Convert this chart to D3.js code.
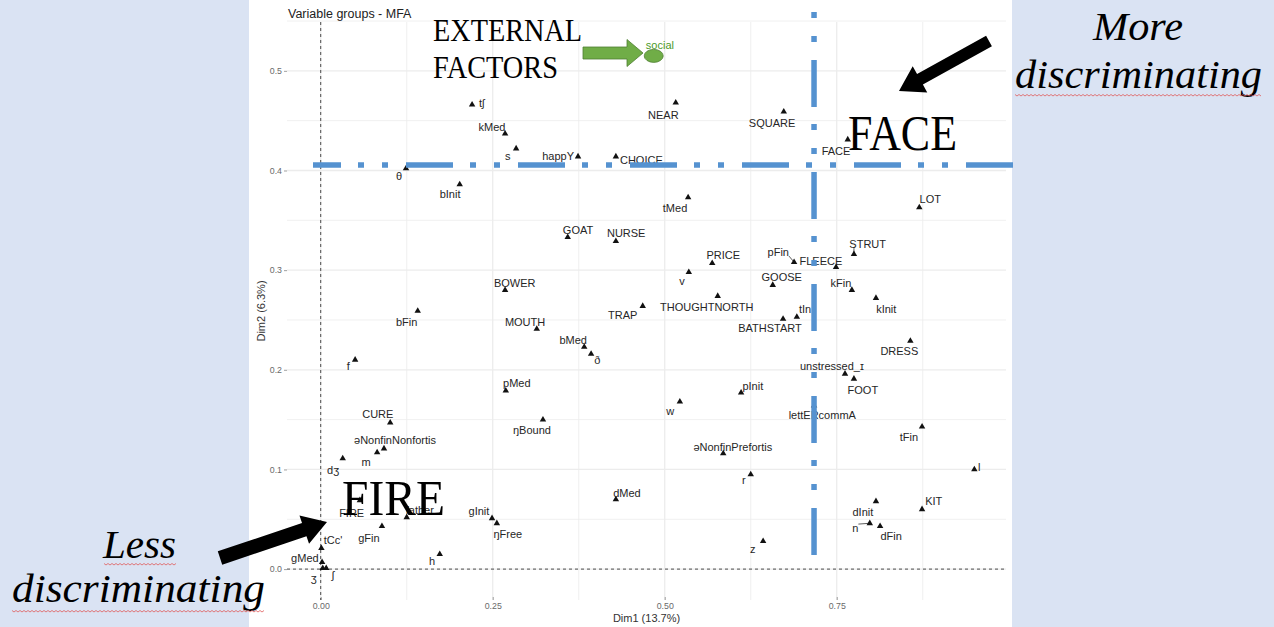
<!DOCTYPE html>
<html><head><meta charset="utf-8">
<script src="https://cdn.jsdelivr.net/npm/d3@7"></script>
<style>
html,body{margin:0;padding:0;background:#fff;}
svg{display:block;}
</style></head>
<body>
<svg id="chart" width="1274" height="627"></svg>
<script>
// ---------- DATA ----------
const names = ["tʃ","kMed","s","happY","CHOICE","θ","bInit","NEAR","SQUARE","FACE","LOT","tMed","GOAT","NURSE","BOWER","bFin","MOUTH","bMed","ð","f","pMed","PRICE","v","pFin","FLEECE","STRUT","GOOSE","kFin","kInit","TRAP","THOUGHTNORTH","tIn","BATHSTART","DRESS","unstressed_ɪ","FOOT","pInit","w","lettERcommA","tFin","əNonfinPrefortis","r","l","dInit","KIT","n","dFin","z","dMed","CURE","ŋBound","əNonfinNonfortis","m","dʒ","FIRE","father","gInit","ŋFree","gFin","tCc'","gMed","ʒ","ʃ","h"];
const dim1 = [0.220,0.268,0.284,0.374,0.429,0.124,0.202,0.516,0.673,0.766,0.870,0.534,0.359,0.429,0.268,0.141,0.314,0.383,0.393,0.050,0.269,0.569,0.535,0.688,0.749,0.775,0.657,0.772,0.807,0.468,0.577,0.692,0.672,0.857,0.762,0.775,0.611,0.522,0.717,0.874,0.585,0.625,0.950,0.807,0.874,0.798,0.813,0.643,0.429,0.101,0.323,0.092,0.082,0.032,0.057,0.125,0.249,0.256,0.089,0.001,0.002,0.003,0.008,0.173];
const dim2 = [0.466,0.437,0.422,0.414,0.414,0.402,0.386,0.468,0.459,0.431,0.363,0.373,0.333,0.329,0.280,0.259,0.241,0.223,0.216,0.210,0.179,0.307,0.298,0.308,0.303,0.316,0.285,0.280,0.272,0.264,0.274,0.253,0.251,0.229,0.196,0.191,0.177,0.168,0.164,0.143,0.116,0.095,0.100,0.068,0.060,0.046,0.043,0.028,0.070,0.147,0.150,0.121,0.117,0.111,0.069,0.052,0.051,0.046,0.043,0.021,0.007,0.001,0.001,0.015];
// repelled label anchors (data units)
const labelDim1 = [0.234,0.249,0.272,0.345,0.466,0.114,0.188,0.498,0.656,0.749,0.886,0.515,0.374,0.444,0.282,0.125,0.297,0.367,0.402,0.040,0.285,0.585,0.525,0.665,0.727,0.795,0.670,0.756,0.822,0.439,0.561,0.704,0.653,0.841,0.743,0.788,0.628,0.508,0.729,0.855,0.599,0.615,0.957,0.788,0.891,0.777,0.829,0.628,0.445,0.083,0.307,0.108,0.066,0.018,0.045,0.144,0.230,0.272,0.070,0.018,-0.023,-0.010,0.018,0.162];
const labelDim2 = [0.468,0.443,0.414,0.414,0.410,0.394,0.376,0.456,0.448,0.419,0.371,0.362,0.340,0.337,0.287,0.248,0.248,0.230,0.210,0.204,0.187,0.315,0.289,0.318,0.309,0.326,0.293,0.287,0.261,0.255,0.263,0.261,0.242,0.219,0.204,0.180,0.184,0.159,0.154,0.132,0.122,0.089,0.102,0.057,0.068,0.041,0.033,0.020,0.076,0.155,0.139,0.129,0.107,0.099,0.056,0.059,0.058,0.035,0.031,0.029,0.011,-0.009,-0.006,0.008];
const segmentLabels = ["pFin","STRUT","n"];
// group point
const groupName = ["social"];
const groupDim1 = [0.484];
const groupDim2 = [0.515];
const groupLabelDim1 = [0.493];
const groupLabelDim2 = [0.526];
// axes
const xTicks = [0, 0.25, 0.5, 0.75];
const yTicks = [0, 0.1, 0.2, 0.3, 0.4, 0.5];
const xGrid = [0, 0.125, 0.25, 0.375, 0.5, 0.625, 0.75, 0.875];
const yGrid = [0, 0.05, 0.1, 0.15, 0.2, 0.25, 0.3, 0.35, 0.4, 0.45, 0.5, 0.55];
const title = "Variable groups - MFA";
const xTitle = "Dim1 (13.7%)";
const yTitle = "Dim2 (6.3%)";
// slide annotations
const thresholdDim1 = 0.717;
const thresholdDim2 = 0.4056;

// ---------- DRAW ----------
const svg = d3.select("#chart");
const W = 1274, H = 627;
const x = d3.scaleLinear().domain([-0.049, 0.996]).range([287, 1006]);
const y = d3.scaleLinear().domain([-0.031, 0.549]).range([600, 22]);
const sans = "'Liberation Sans', Arial, sans-serif";
const serif = "'Liberation Serif', 'Times New Roman', serif";

// side panels
svg.append("rect").attr("x",0).attr("y",0).attr("width",249).attr("height",H).attr("fill","#dae3f3");
svg.append("rect").attr("x",1012).attr("y",0).attr("width",W-1012).attr("height",H).attr("fill","#dae3f3");

// grid
const g = svg.append("g");
g.selectAll("line.gx").data(xGrid).join("line")
  .attr("x1",d=>x(d)).attr("x2",d=>x(d)).attr("y1",y.range()[1]).attr("y2",y.range()[0])
  .attr("stroke","#ececec").attr("stroke-width",(d,i)=>i%2===0?1.3:0.8);
g.selectAll("line.gy").data(yGrid).join("line")
  .attr("y1",d=>y(d)).attr("y2",d=>y(d)).attr("x1",x.range()[0]).attr("x2",x.range()[1])
  .attr("stroke","#ececec").attr("stroke-width",(d,i)=>i%2===0?1.3:0.8);

// axes
const xAxis = d3.axisBottom(x).tickValues(xTicks).tickFormat(d3.format(".2f")).tickSize(3).tickPadding(3);
const yAxis = d3.axisLeft(y).tickValues(yTicks).tickFormat(d3.format(".1f")).tickSize(3).tickPadding(2);
const gx = svg.append("g").attr("transform","translate(0,597)").call(xAxis);
const gy = svg.append("g").attr("transform","translate(287,0)").call(yAxis);
[gx,gy].forEach(a=>{
  a.select(".domain").remove();
  a.selectAll(".tick line").attr("stroke","#888").attr("stroke-width",0.8);
  a.selectAll(".tick text").attr("fill","#6a6a6a").style("font-family",sans).style("font-size","8.8px");
});

// reference dashed lines
svg.append("line").attr("x1",x(0)).attr("x2",x(0)).attr("y1",y.range()[1]).attr("y2",y.range()[0])
  .attr("stroke","#222").attr("stroke-width",0.8).attr("stroke-dasharray","3,3");
svg.append("line").attr("y1",y(0)).attr("y2",y(0)).attr("x1",x.range()[0]).attr("x2",x.range()[1])
  .attr("stroke","#222").attr("stroke-width",0.8).attr("stroke-dasharray","3,3");

// titles
svg.append("text").attr("x",288).attr("y",18).text(title)
  .style("font-family",sans).style("font-size","12.5px").attr("fill","#222");
svg.append("text").attr("x",(x.range()[0]+x.range()[1])/2).attr("y",622).attr("text-anchor","middle").text(xTitle)
  .style("font-family",sans).style("font-size","11px").attr("fill","#333");
svg.append("text").attr("transform",`translate(265,${(y.range()[0]+y.range()[1])/2}) rotate(-90)`)
  .attr("text-anchor","middle").text(yTitle)
  .style("font-family",sans).style("font-size","11px").attr("fill","#333");

// data
const pts = names.map((n,i)=>({name:n, x:dim1[i], y:dim2[i], lx:labelDim1[i], ly:labelDim2[i]}));
const tri = d3.symbol().type(d3.symbolTriangle).size(18);
const labels = svg.append("g").selectAll("text").data(pts).join("text")
  .attr("x",d=>x(d.lx)).attr("y",d=>y(d.ly)).attr("dy","0.35em").attr("text-anchor","middle")
  .text(d=>d.name).style("font-family",sans).style("font-size","11px").attr("fill","#262626");
// segments for repelled labels
labels.filter(d=>segmentLabels.includes(d.name)).each(function(d){
  const b = this.getBBox();
  const px = x(d.x), py = y(d.y);
  const cx = Math.max(b.x, Math.min(px, b.x+b.width));
  const cy = Math.max(b.y+2, Math.min(py, b.y+b.height-2));
  svg.append("line").attr("x1",cx).attr("y1",cy).attr("x2",px).attr("y2",py)
    .attr("stroke","#333").attr("stroke-width",0.8);
});
svg.append("g").selectAll("path").data(pts).join("path")
  .attr("d",tri).attr("transform",d=>`translate(${x(d.x)},${y(d.y)})`).attr("fill","#111");

// group point (social)
const gpts = groupName.map((n,i)=>({name:n,x:groupDim1[i],y:groupDim2[i],lx:groupLabelDim1[i],ly:groupLabelDim2[i]}));
svg.append("g").selectAll("text").data(gpts).join("text")
  .attr("x",d=>x(d.lx)).attr("y",d=>y(d.ly)).attr("dy","0.35em").attr("text-anchor","middle")
  .text(d=>d.name).style("font-family",sans).style("font-size","11px").attr("fill","#4c9a2a");
svg.append("g").selectAll("ellipse").data(gpts).join("ellipse")
  .attr("cx",d=>x(d.x)).attr("cy",d=>y(d.y)).attr("rx",9.5).attr("ry",6.5)
  .attr("fill","#70ad47").attr("stroke","#4f7f32").attr("stroke-width",0.8);

// ---------- slide annotations ----------
function arrowPath(x1,y1,x2,y2,sw,hw,hl){
  const L = Math.hypot(x2-x1,y2-y1), ux=(x2-x1)/L, uy=(y2-y1)/L, nx=-uy, ny=ux;
  const bx = x2-ux*hl, by = y2-uy*hl;
  const p = [
    [x1+nx*sw/2, y1+ny*sw/2],[bx+nx*sw/2, by+ny*sw/2],[bx+nx*hw/2, by+ny*hw/2],[x2,y2],
    [bx-nx*hw/2, by-ny*hw/2],[bx-nx*sw/2, by-ny*sw/2],[x1-nx*sw/2, y1-ny*sw/2]];
  return "M"+p.map(q=>q.join(",")).join("L")+"Z";
}
// blue threshold lines (dash-dot-dot)
const blue = "#5592d0";
svg.append("line").attr("x1",x(thresholdDim1)).attr("x2",x(thresholdDim1)).attr("y1",555).attr("y2",12)
  .attr("stroke",blue).attr("stroke-width",5.5).attr("stroke-dasharray","47,18,6,18,6,17");
svg.append("line").attr("x1",1013).attr("x2",313).attr("y1",y(thresholdDim2)).attr("y2",y(thresholdDim2))
  .attr("stroke",blue).attr("stroke-width",5.5).attr("stroke-dasharray","47,18,6,18,6,17");

// green arrow
svg.append("path").attr("d",arrowPath(583,53,643,53,12,27,16))
  .attr("fill","#70ad47").attr("stroke","#4f7f32").attr("stroke-width",0.8);
// black arrows
svg.append("path").attr("d",arrowPath(989,41,899,91,12,30,24)).attr("fill","#000");
svg.append("path").attr("d",arrowPath(220,558,327,522,14,30,24)).attr("fill","#000");

// big words
function bigText(t,xx,yy,len,size,italic){
  return svg.append("text").attr("x",xx).attr("y",yy).text(t)
    .attr("textLength",len).attr("lengthAdjust","spacingAndGlyphs")
    .style("font-family",serif).style("font-size",size+"px")
    .style("font-style",italic?"italic":"normal").attr("fill","#000");
}
bigText("EXTERNAL",433,41,149,31,false);
bigText("FACTORS",433,78,125,31,false);
bigText("FACE",848,150,109,51,false);
bigText("FIRE",342,515,103,51,false);
bigText("More",1093,40,90,40,true);
bigText("discriminating",1015,88,247,40,true);
bigText("Less",103,558,73,40,true);
bigText("discriminating",12,602,253,40,true);

// spell-check squiggles
function squiggle(x1,x2,yy){
  const pts2=[]; for(let xx=x1, k=0; xx<=x2; xx+=2, k++) pts2.push([xx, yy+(k%2?1:-0.5)]);
  svg.append("path").attr("d",d3.line()(pts2)).attr("fill","none").attr("stroke","#e05a5a").attr("stroke-width",0.8);
}
squiggle(1015,1262,95);
squiggle(104,176,564);
squiggle(12,265,611);
</script>
</body></html>
